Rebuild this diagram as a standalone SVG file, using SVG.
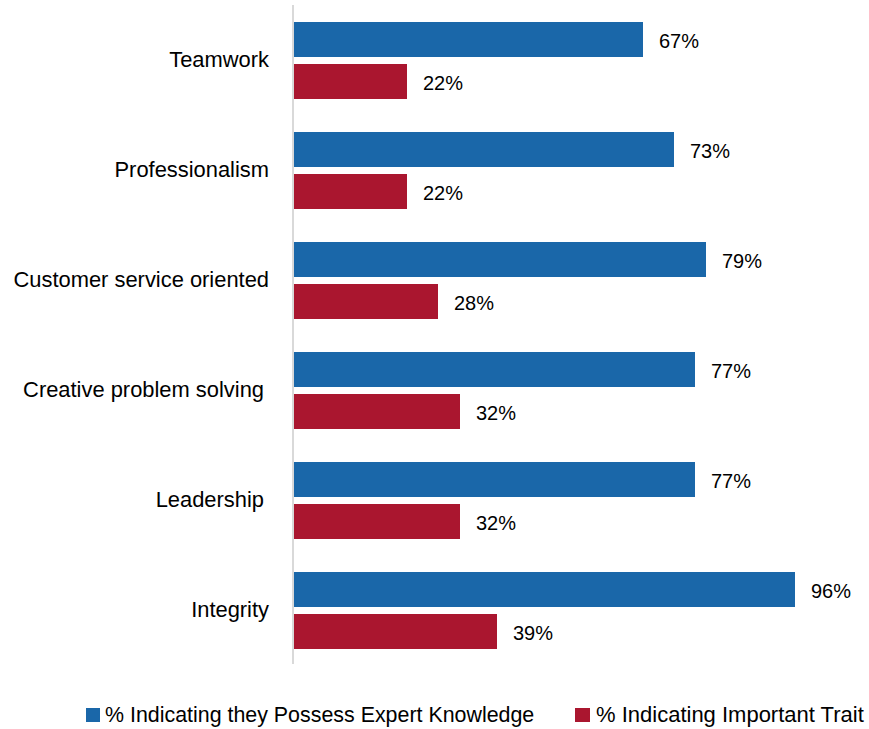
<svg xmlns="http://www.w3.org/2000/svg" width="869" height="729" viewBox="0 0 869 729">
<style>
text{font-family:"Liberation Sans",Arial,sans-serif;fill:#000}
.cat{font-size:21.9px;text-anchor:end}
.val{font-size:20px}
.leg{font-size:21.4px}
.leg2{font-size:22px}
.b{fill:#1a67a9}
.r{fill:#aa162f}
</style>
<rect width="869" height="729" fill="#fff"/>
<g id="axis"><line x1="293" y1="5" x2="293" y2="664" stroke="#d9d9d9" stroke-width="2"/></g>
<g id="teamwork">
<text class="cat" x="269" y="67">Teamwork</text>
<rect class="b" x="294" y="22" width="349" height="35"/>
<text class="val" x="659" y="48">67%</text>
<rect class="r" x="294" y="64" width="113" height="35"/>
<text class="val" x="423" y="90">22%</text>
</g>
<g id="professionalism">
<text class="cat" x="269" y="177">Professionalism</text>
<rect class="b" x="294" y="132" width="380" height="35"/>
<text class="val" x="690" y="158">73%</text>
<rect class="r" x="294" y="174" width="113" height="35"/>
<text class="val" x="423" y="200">22%</text>
</g>
<g id="customer">
<text class="cat" x="269" y="287">Customer service oriented</text>
<rect class="b" x="294" y="242" width="412" height="35"/>
<text class="val" x="722" y="268">79%</text>
<rect class="r" x="294" y="284" width="144" height="35"/>
<text class="val" x="454" y="310">28%</text>
</g>
<g id="creative">
<text class="cat" x="264" y="397">Creative problem solving</text>
<rect class="b" x="294" y="352" width="401" height="35"/>
<text class="val" x="711" y="378">77%</text>
<rect class="r" x="294" y="394" width="166" height="35"/>
<text class="val" x="476" y="420">32%</text>
</g>
<g id="leadership">
<text class="cat" x="264" y="507">Leadership</text>
<rect class="b" x="294" y="462" width="401" height="35"/>
<text class="val" x="711" y="488">77%</text>
<rect class="r" x="294" y="504" width="166" height="35"/>
<text class="val" x="476" y="530">32%</text>
</g>
<g id="integrity">
<text class="cat" x="269" y="617">Integrity</text>
<rect class="b" x="294" y="572" width="501" height="35"/>
<text class="val" x="811" y="598">96%</text>
<rect class="r" x="294" y="614" width="203" height="35"/>
<text class="val" x="513" y="640">39%</text>
</g>
<g id="legend">
<rect class="b" x="86" y="708" width="14" height="14"/>
<text class="leg" x="105" y="722">% Indicating they Possess Expert Knowledge</text>
<rect class="r" x="575" y="708" width="15" height="14"/>
<text class="leg2" x="596" y="722">% Indicating Important Trait</text>
</g>
</svg>
